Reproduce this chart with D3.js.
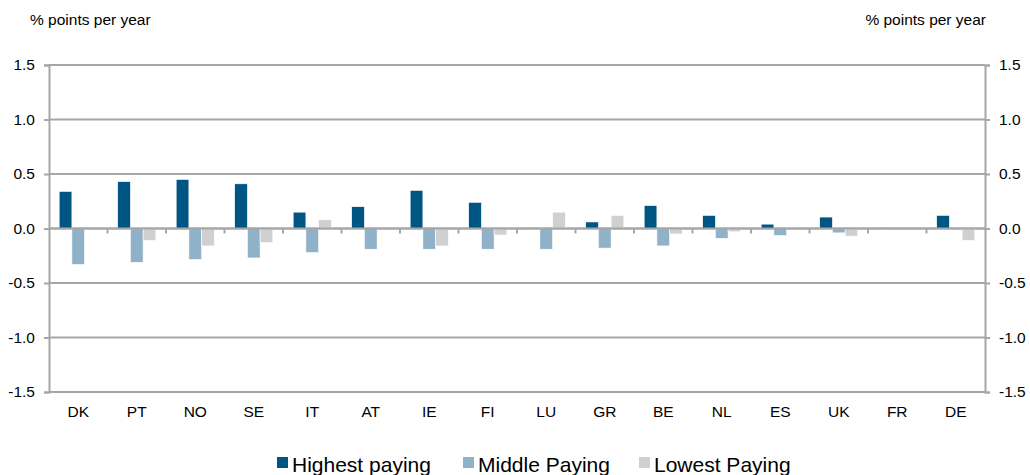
<!DOCTYPE html>
<html>
<head>
<meta charset="utf-8">
<script src="https://cdn.jsdelivr.net/npm/d3@7"></script>
<style>
  body { margin: 0; background: #fff; }
  svg { font-family: "Liberation Sans", Arial, sans-serif; }
</style>
</head>
<body>
<svg class="chart" width="1030" height="475"></svg>
<script>
const width = 1030;
const height = 475;

// data
const countries = ['DK', 'PT', 'NO', 'SE', 'IT', 'AT', 'IE', 'FI', 'LU', 'GR', 'BE', 'NL', 'ES', 'UK', 'FR', 'DE'];
const highest = [0.34, 0.43, 0.45, 0.41, 0.15, 0.20, 0.35, 0.24, 0.01, 0.06, 0.21, 0.12, 0.04, 0.105, 0.01, 0.12];
const middle = [-0.33, -0.31, -0.285, -0.27, -0.22, -0.19, -0.19, -0.19, -0.19, -0.18, -0.16, -0.09, -0.065, -0.04, 0, 0];
const lowest = [0, -0.11, -0.16, -0.13, 0.08, 0, -0.16, -0.06, 0.15, 0.12, -0.05, -0.03, 0.015, -0.07, 0, -0.11];
const seriesNames = ['Highest paying', 'Middle Paying', 'Lowest Paying'];
const seriesColors = ['#005682', '#90b2c8', '#d0d0d0'];
const yTicks = [-1.5, -1.0, -0.5, 0, 0.5, 1.0, 1.5];

const svg = d3.select(".chart");

const plotLeft = 49, plotRight = 985, plotTop = 65, plotBottom = 392;

const x = d3.scaleBand()
    .domain(countries)
    .range([plotLeft, plotRight]);

const xInner = d3.scaleBand()
    .domain(seriesNames)
    .range([0, x.bandwidth()])
    .paddingOuter(0.8)
    .paddingInner(0);

const y = d3.scaleLinear()
    .domain([-1.5, 1.5])
    .range([plotBottom, plotTop]);

const gridColor = '#a6a6a6';

// horizontal grid lines
svg.append("g")
    .selectAll("line")
    .data(yTicks)
    .join("line")
    .attr("x1", plotLeft)
    .attr("x2", plotRight)
    .attr("y1", d => y(d))
    .attr("y2", d => y(d))
    .attr("stroke", gridColor)
    .attr("stroke-width", 2);

const fmt = d => d.toFixed(1); // plain hyphen minus like the original

// left axis
const yAxisL = d3.axisLeft(y).tickValues(yTicks).tickFormat(fmt).tickSize(5).tickPadding(9);
const gL = svg.append("g")
    .attr("transform", `translate(${plotLeft},0)`)
    .call(yAxisL);

// right axis
const yAxisR = d3.axisRight(y).tickValues(yTicks).tickFormat(fmt).tickSize(5).tickPadding(9);
const gR = svg.append("g")
    .attr("transform", `translate(${plotRight},0)`)
    .call(yAxisR);

[gL, gR].forEach(g => {
    g.select(".domain").attr("stroke", gridColor).attr("stroke-width", 2);
    g.selectAll(".tick line").attr("stroke", gridColor).attr("stroke-width", 2);
    g.selectAll(".tick text")
        .attr("fill", "#000")
        .style("font-size", "15.5px")
        .style("font-family", "Liberation Sans, Arial, sans-serif");
});

// bars
const data = countries.map((c, i) => ({ country: c, values: [highest[i], middle[i], lowest[i]] }));

const groups = svg.append("g")
    .selectAll("g")
    .data(data)
    .join("g")
    .attr("transform", d => `translate(${x(d.country)},0)`);

groups.selectAll("rect")
    .data(d => d.values.map((v, j) => ({ key: seriesNames[j], value: v, j })))
    .join("rect")
    .attr("x", d => xInner(d.key))
    .attr("width", xInner.bandwidth())
    .attr("y", d => y(Math.max(0, d.value)))
    .attr("height", d => Math.max(Math.abs(y(d.value) - y(0)), d.value !== 0 ? 1 : 0))
    .attr("fill", d => seriesColors[d.j])
    .attr("stroke", "#fff")
    .attr("stroke-width", 0.6);

// zero line with category separators on top
const zeroY = y(0);
svg.append("line")
    .attr("x1", plotLeft).attr("x2", plotRight)
    .attr("y1", zeroY).attr("y2", zeroY)
    .attr("stroke", gridColor).attr("stroke-width", 2);

svg.append("g")
    .selectAll("line")
    .data(countries.slice(1))
    .join("line")
    .attr("x1", d => x(d))
    .attr("x2", d => x(d))
    .attr("y1", zeroY)
    .attr("y2", zeroY + 5)
    .attr("stroke", gridColor)
    .attr("stroke-width", 2);

// category labels
svg.append("g")
    .selectAll("text")
    .data(countries)
    .join("text")
    .attr("x", d => x(d) + x.bandwidth() / 2)
    .attr("y", 417)
    .attr("text-anchor", "middle")
    .style("font-size", "15.5px")
    .text(d => d);

// axis titles
svg.append("text")
    .attr("x", 30)
    .attr("y", 25)
    .style("font-size", "15.5px")
    .text("% points per year");

svg.append("text")
    .attr("x", 986)
    .attr("y", 25)
    .attr("text-anchor", "end")
    .style("font-size", "15.5px")
    .text("% points per year");

// legend
const legendX = [277, 463, 639];
const legend = svg.append("g")
    .selectAll("g")
    .data(seriesNames)
    .join("g")
    .attr("transform", (d, i) => `translate(${legendX[i]},457)`);

legend.append("rect")
    .attr("width", 11)
    .attr("height", 11)
    .attr("fill", (d, i) => seriesColors[i]);

legend.append("text")
    .attr("x", 15)
    .attr("y", 15)
    .style("font-size", "21px")
    .text(d => d);
</script>
</body>
</html>
